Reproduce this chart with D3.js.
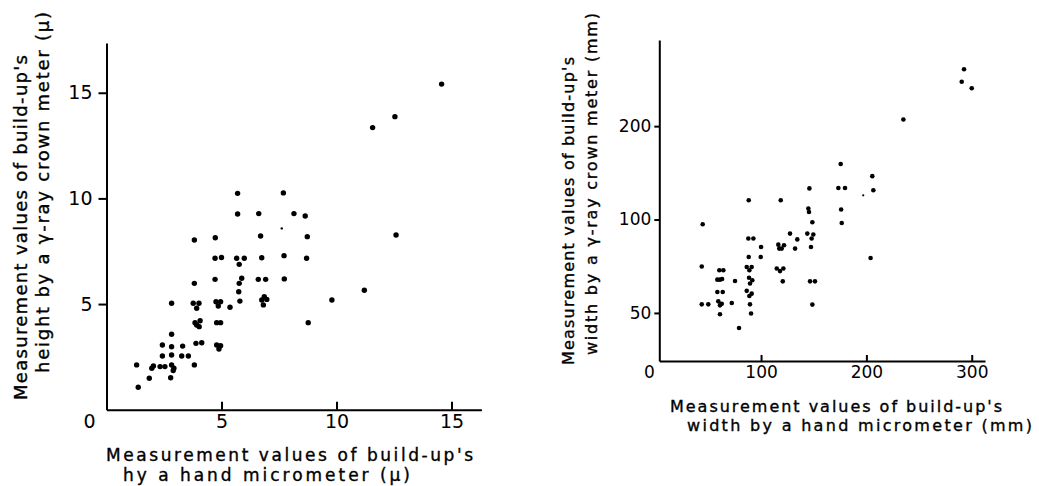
<!DOCTYPE html>
<html lang="en">
<head>
<meta charset="UTF-8">
<title>Build-up measurements</title>
<script src="https://d3js.org/d3.v7.min.js"></script>
<style>
    body { margin: 0; background: #fff; overflow: hidden; }
    svg { display: block; }
    text { font-family: "DejaVu Sans", sans-serif; fill: #000; }
    .title { stroke: #000; stroke-width: 0.35px; }
    .axis path, .axis line { stroke: #000; stroke-width: 2; }
</style>
</head>
<body>
<script>
    // Left panel: build-up height (μ), hand micrometer vs γ-ray crown meter
    const heightHand = [14.57, 12.54, 11.57, 12.59, 11.21, 9.80, 8.77, 8.70, 8.73, 8.64, 8.15, 7.69, 7.72, 7.73,
        6.62, 6.70, 6.75, 6.60, 6.92, 6.75, 6.86, 6.97, 6.82,
        5.70, 5.70, 5.66, 5.99, 5.77, 5.88, 5.77, 5.75, 5.80, 5.37,
        4.73, 4.72, 5.00, 4.72, 4.76, 4.96, 4.86, 4.79, 4.96, 4.79, 4.96, 4.89,
        3.82, 3.82, 3.77, 4.02, 3.92, 3.85, 4.07, 4.03, 3.92, 3.89, 4.14, 3.82,
        2.83, 2.83, 2.83, 2.83, 3.31, 3.27, 3.56, 2.43, 2.43, 2.33, 2.54, 2.83, 2.93, 2.90, 2.79,
        1.97, 2.04, 1.86, 1.31, 1.38];
    const heightCrown = [15.41, 13.87, 13.35, 8.27, 5.65, 5.19, 4.12, 7.17, 8.19, 9.17, 9.28, 10.26, 7.29, 6.19,
        9.28, 8.22, 7.19, 6.17, 6.17, 5.19, 5.35, 5.22, 4.96,
        10.24, 9.26, 7.17, 7.17, 6.88, 6.22, 5.98, 5.58, 5.14, 4.85,
        8.14, 7.17, 7.20, 6.17, 5.11, 5.11, 4.91, 4.12, 4.12, 3.06, 3.03, 2.87,
        8.03, 5.98, 5.04, 5.04, 4.80, 4.12, 4.21, 3.93, 4.01, 3.14, 3.17, 2.12,
        5.04, 3.57, 2.98, 2.59, 3.01, 2.54, 2.54, 3.06, 2.54, 2.04, 2.04, 2.12, 1.96, 1.85, 1.51,
        1.96, 2.07, 1.49, 2.12, 1.06];
    const heightFaintHand = [7.62];
    const heightFaintCrown = [8.58];
    const heightTicks = [5, 10, 15];

    // Right panel: build-up width (mm)
    const widthHand = [292.7, 290.5, 300.0, 235.1, 175.6, 173.4, 179.7, 176.0, 176.6, 205.6, 206.6, 204.0,
        145.9, 144.9, 145.5, 148.7, 143.9, 149.6, 148.0, 147.4, 146.5, 151.2, 148.7,
        118.7, 127.5, 134.4, 132.3, 116.4, 121.8, 119.6, 117.3, 114.9, 121.2, 118.0, 120.6,
        88.3, 87.9, 92.7, 100.0, 99.7, 88.3, 86.4, 91.1, 88.9, 88.6, 91.7, 89.5, 86.4, 91.1, 88.9, 89.5, 90.5,
        79.1, 75.3, 72.2, 60.4, 64.2, 58.5, 61.0, 63.0, 58.5, 63.6, 59.4, 62.7, 61.0, 61.0,
        44.6, 43.7, 43.7, 49.9];
    const widthCrown = [305, 278, 265, 210, 151, 126.4, 126.4, 107.7, 97.5, 138, 124.3, 75.2,
        126, 108.5, 105.8, 98, 90.1, 89.5, 86.9, 81.6, 63.2, 63.2, 53.2,
        115.4, 90.1, 86.3, 80.6, 83, 82.6, 80.6, 80.6, 69.5, 69.5, 68.2, 63.2,
        115.4, 86.9, 86.9, 81.6, 75.7, 75.7, 70.3, 70.3, 68.6, 64.9, 63.7, 62.2, 58.9, 57.7, 56.7, 53.3, 49.8,
        44.7, 63.4, 53.8, 68.6, 68.6, 64, 64, 64.3, 58.4, 58.4, 54.5, 53.5, 52.9, 49.5,
        96.6, 70.6, 53.3, 53.3];
    const widthFaintHand = [197];
    const widthFaintCrown = [119.7];
    const widthXTicks = [100, 200, 300];
    const widthYTicks = [50, 100, 200];

    const svg = d3.select("body").append("svg")
        .attr("width", 1039)
        .attr("height", 486);

    // ---------- left panel ----------
    const xL = d3.scaleLinear().domain([0, 16.3]).range([106.5, 481.4]);
    const yL = d3.scaleLinear().domain([0, 17.35]).range([409.7, 43.1]);

    const gxL = svg.append("g")
        .attr("class", "axis")
        .attr("transform", `translate(0,${yL(0)})`)
        .call(d3.axisBottom(xL).tickValues(heightTicks).tickSizeInner(-8).tickSizeOuter(0))
        .attr("font-family", null).attr("font-size", null);
    gxL.selectAll("text").attr("dy", null).attr("y", 18).style("font-size", "19px");

    const gyL = svg.append("g")
        .attr("class", "axis")
        .attr("transform", `translate(${xL(0)},0)`)
        .call(d3.axisLeft(yL).tickValues(heightTicks).tickSizeInner(8).tickSizeOuter(0).tickPadding(6))
        .attr("font-family", null).attr("font-size", null);
    gyL.selectAll("text").style("font-size", "19px");

    svg.append("text")
        .attr("x", xL(0) - 17).attr("y", yL(0) + 18)
        .attr("text-anchor", "middle")
        .style("font-size", "19px")
        .text("0");

    svg.append("g").selectAll("circle")
        .data(heightHand)
        .enter().append("circle")
        .attr("cx", d => xL(d))
        .attr("cy", (d, i) => yL(heightCrown[i]))
        .attr("r", 2.7);

    svg.append("g").selectAll("circle")
        .data(heightFaintHand)
        .enter().append("circle")
        .attr("cx", d => xL(d))
        .attr("cy", (d, i) => yL(heightFaintCrown[i]))
        .attr("r", 1.2);

    // axis titles (left)
    svg.append("text").attr("class", "title").attr("x", 106).attr("y", 461)
        .attr("textLength", 367).attr("lengthAdjust", "spacing")
        .style("font-size", "17px")
        .text("Measurement values of build-up's");
    svg.append("text").attr("class", "title").attr("x", 123).attr("y", 481)
        .attr("textLength", 287).attr("lengthAdjust", "spacing")
        .style("font-size", "17px")
        .text("hy a hand micrometer (μ)");
    svg.append("text").attr("class", "title").attr("transform", "translate(26.5,400) rotate(-90)")
        .attr("textLength", 345).attr("lengthAdjust", "spacing")
        .style("font-size", "18px")
        .text("Measurement values of build-up's");
    svg.append("text").attr("class", "title").attr("transform", "translate(49,373) rotate(-90)")
        .attr("textLength", 361).attr("lengthAdjust", "spacing")
        .style("font-size", "18px")
        .text("height by a γ-ray crown meter (μ)");

    // ---------- right panel ----------
    const xR = d3.scaleLinear().domain([3.4, 312.6]).range([659.3, 985]);
    const yR = d3.scaleLog().domain([35, 379]).range([361, 40]);

    const gxR = svg.append("g")
        .attr("class", "axis")
        .attr("transform", `translate(0,${yR(35)})`)
        .call(d3.axisBottom(xR).tickValues(widthXTicks).tickSizeInner(-6).tickSizeOuter(0))
        .attr("font-family", null).attr("font-size", null);
    gxR.selectAll("text").attr("dy", null).attr("y", 17).style("font-size", "17px");

    const gyR = svg.append("g")
        .attr("class", "axis")
        .attr("transform", `translate(${xR(3.4)},0)`)
        .call(d3.axisLeft(yR).tickValues(widthYTicks).tickFormat(d3.format("d"))
            .tickSizeInner(5).tickSizeOuter(0).tickPadding(3))
        .attr("font-family", null).attr("font-size", null);
    gyR.selectAll("text").style("font-size", "17px");

    svg.append("text")
        .attr("x", xR(3.4) - 10).attr("y", yR(35) + 17)
        .attr("text-anchor", "middle")
        .style("font-size", "17px")
        .text("0");

    svg.append("g").selectAll("circle")
        .data(widthHand)
        .enter().append("circle")
        .attr("cx", d => xR(d))
        .attr("cy", (d, i) => yR(widthCrown[i]))
        .attr("r", 2.3);

    svg.append("g").selectAll("circle")
        .data(widthFaintHand)
        .enter().append("circle")
        .attr("cx", d => xR(d))
        .attr("cy", (d, i) => yR(widthFaintCrown[i]))
        .attr("r", 1.1);

    // axis titles (right)
    svg.append("text").attr("class", "title").attr("x", 670).attr("y", 411.5)
        .attr("textLength", 332).attr("lengthAdjust", "spacing")
        .style("font-size", "16px")
        .text("Measurement values of build-up's");
    svg.append("text").attr("class", "title").attr("x", 687).attr("y", 431)
        .attr("textLength", 345).attr("lengthAdjust", "spacing")
        .style("font-size", "16px")
        .text("width by a hand micrometer (mm)");
    svg.append("text").attr("class", "title").attr("transform", "translate(574,365) rotate(-90)")
        .attr("textLength", 308).attr("lengthAdjust", "spacing")
        .style("font-size", "16px")
        .text("Measurement values of build-up's");
    svg.append("text").attr("class", "title").attr("transform", "translate(597,355) rotate(-90)")
        .attr("textLength", 342).attr("lengthAdjust", "spacing")
        .style("font-size", "16px")
        .text("width by a γ-ray crown meter (mm)");
</script>
</body>
</html>
